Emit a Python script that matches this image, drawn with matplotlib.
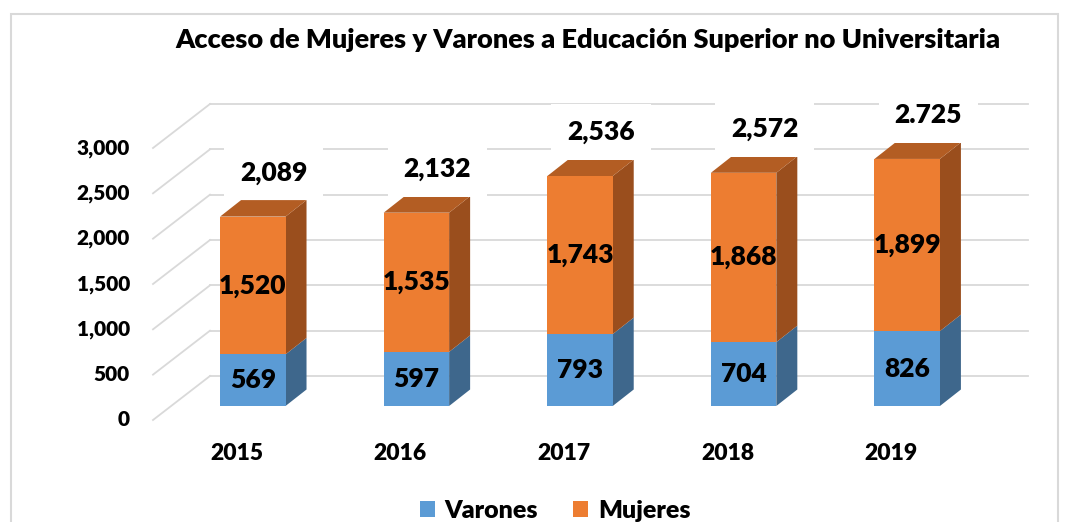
import matplotlib
matplotlib.use("Agg")
import matplotlib.pyplot as plt
from matplotlib.patches import Polygon, Rectangle
from matplotlib.lines import Line2D
import numpy as np

# data
years = ["2015", "2016", "2017", "2018", "2019"]
varones = [569, 597, 793, 704, 826]
mujeres = [1520, 1535, 1743, 1868, 1899]
total_labels = ["2,089", "2,132", "2,536", "2,572", "2.725"]
y_ticks = [0, 500, 1000, 1500, 2000, 2500, 3000]

TITLE = "Acceso de Mujeres y Varones a Educación Superior no Universitaria"

BLUE, BLUE_SIDE = "#5B9BD5", "#3E678C"
ORANGE, ORANGE_SIDE, ORANGE_TOP = "#ED7D31", "#9A4E1D", "#B35D23"
GRID = "#D9D9D9"
FONT = "Lato"
WEIGHT = "heavy"

W, H = 1072, 522
fig = plt.figure(figsize=(W / 100, H / 100), dpi=100)

# plane of the bar fronts, in pixels (from top-left)
left_px, right_px, base_px, top_px = 171, 989, 406, 134
ax = fig.add_axes([left_px / W, (H - base_px) / H, (right_px - left_px) / W, (base_px - top_px) / H])
ax.set_xlim(-0.5, len(years) - 0.5)
ax.set_ylim(0, 3000)
ax.axis("off")

sx = len(years) / (right_px - left_px)   # data units per px
sy = 3000 / (base_px - top_px)


def off(dx_px, dy_px):
    return dx_px * sx, dy_px * sy


bar_dx, bar_dy = off(21, 16.5)
back_dx, back_dy = off(39, 30)
front_dx, front_dy = off(-18, -14)

# back wall grid and floor diagonals
x0, x1 = -0.5, len(years) - 0.5
for v in y_ticks:
    ax.add_line(Line2D([x0 + back_dx, x1 + back_dx], [v + back_dy, v + back_dy],
                       color=GRID, lw=1.3, clip_on=False, zorder=1))
    ax.add_line(Line2D([x0 + front_dx, x0 + back_dx], [v + front_dy, v + back_dy],
                       color=GRID, lw=1.3, clip_on=False, zorder=1))
    tx, _ = off(-23, 0)
    ax.text(x0 + front_dx + tx, v + front_dy, f"{v:,}", ha="right", va="center",
            fontsize=15, fontweight=WEIGHT, family=FONT, clip_on=False)

x = np.arange(len(years))
bw = 0.40
v = np.array(varones)
m = np.array(mujeres)
tot = v + m

ax.bar(x, v, width=bw, color=BLUE, zorder=3, clip_on=False)
ax.bar(x, m, bottom=v, width=bw, color=ORANGE, zorder=3, clip_on=False)

for i in range(len(years)):
    xr = x[i] + bw / 2
    xl = x[i] - bw / 2
    for b, t, c in [(0, v[i], BLUE_SIDE), (v[i], tot[i], ORANGE_SIDE)]:
        ax.add_patch(Polygon([(xr, b), (xr + bar_dx, b + bar_dy), (xr + bar_dx, t + bar_dy), (xr, t)],
                             closed=True, fc=c, ec="none", zorder=2.9, clip_on=False))
    ax.add_patch(Polygon([(xl, tot[i]), (xl + bar_dx, tot[i] + bar_dy),
                          (xr + bar_dx, tot[i] + bar_dy), (xr, tot[i])],
                         closed=True, fc=ORANGE_TOP, ec="none", zorder=2.9, clip_on=False))

    ax.text(x[i], v[i] / 2, f"{v[i]:,}", ha="center", va="center",
            fontsize=19, fontweight=WEIGHT, family=FONT, zorder=5)
    ax.text(x[i], v[i] + m[i] / 2, f"{m[i]:,}", ha="center", va="center",
            fontsize=19, fontweight=WEIGHT, family=FONT, zorder=5)

    lx, ly = off(21, 44)
    ax.text(x[i] + lx, tot[i] + ly, total_labels[i], ha="center", va="center",
            fontsize=19, fontweight=WEIGHT, family=FONT, zorder=4,
            bbox=dict(boxstyle="square,pad=0.6", fc="white", ec="none"), clip_on=False)

    yx, yy = off(-16, -47)
    ax.text(x[i] + yx, yy, years[i], ha="center", va="center",
            fontsize=16.5, fontweight=WEIGHT, family=FONT, clip_on=False)

fig.text(588 / W, 1 - 40 / H, TITLE, ha="center", va="center",
         fontsize=19.5, fontweight=WEIGHT, family=FONT)

# outer chart border
fig.add_artist(Rectangle((11 / W, -0.05), (1058 - 11) / W, 1.05 - 14 / H,
                         transform=fig.transFigure, fill=False, ec="#D9D9D9", lw=1.5))

handles = [Rectangle((0, 0), 1, 1, fc=BLUE), Rectangle((0, 0), 1, 1, fc=ORANGE)]
fig.legend(handles, ["Varones", "Mujeres"], loc="center", bbox_to_anchor=(0.518, 1 - 511 / H),
           ncol=2, frameon=False, handlelength=0.6, handleheight=0.6, handletextpad=0.4,
           columnspacing=1.4, prop=dict(family=FONT, weight=WEIGHT, size=18))

fig.savefig("out.png", dpi=100)
